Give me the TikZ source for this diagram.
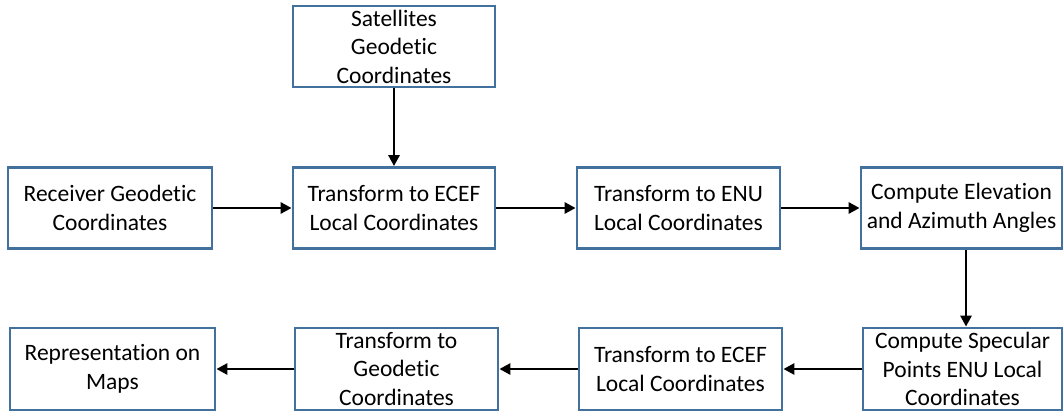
\documentclass[tikz,border=0pt]{standalone}
\usepackage{fontspec}
\setmainfont[Ligatures={NoCommon,NoContextual},RawFeature={-liga;-clig}]{Carlito}
\usetikzlibrary{arrows.meta}
\definecolor{boxblue}{HTML}{41719C}
\begin{document}
\begin{tikzpicture}[x=1pt,y=-1pt,
  blk/.style={draw=boxblue,line width=2.8pt,fill=white,minimum width=202pt,minimum height=81pt,
    inner sep=0pt,align=center,font=\fontsize{23.5}{28.5}\selectfont},
  conn/.style={line width=2.8pt,-{Triangle[length=11pt,width=11pt]}}]
\useasboundingbox (0,0) rectangle (1064,412);
\node[blk] (sat) at (394,46.5) {Satellites\\Geodetic\\Coordinates};
\node[blk,minimum width=204pt] (rec) at (110,208) {Receiver Geodetic\\Coordinates};
\node[blk] (ecef1) at (394,208) {Transform to ECEF\\Local Coordinates};
\node[blk,minimum width=203pt] (enu) at (678.5,208) {Transform to ENU\\Local Coordinates};
\node[blk,minimum width=201pt] (elev) at (961.5,208) {Compute Elevation\\and Azimuth Angles};
\node[blk,minimum width=199pt,minimum height=82pt] (spec) at (962.5,369) {Compute Specular\\Points ENU Local\\Coordinates};
\node[blk,minimum width=203pt,minimum height=82pt] (ecef2) at (680.5,369) {Transform to ECEF\\Local Coordinates};
\node[blk,minimum width=203pt,minimum height=82pt] (geo) at (396.5,369) {Transform to\\Geodetic\\Coordinates};
\node[blk,minimum width=205pt,minimum height=82pt] (rep) at (112.5,369) {Representation on\\Maps};
\draw[conn] (sat) -- (ecef1);
\draw[conn] (rec) -- (ecef1);
\draw[conn] (ecef1) -- (enu);
\draw[conn] (enu) -- (elev);
\draw[conn] (elev.south -| 966,0) -- (spec.north -| 966,0);
\draw[conn] (spec) -- (ecef2);
\draw[conn] (ecef2) -- (geo);
\draw[conn] (geo) -- (rep);
\end{tikzpicture}
\end{document}
